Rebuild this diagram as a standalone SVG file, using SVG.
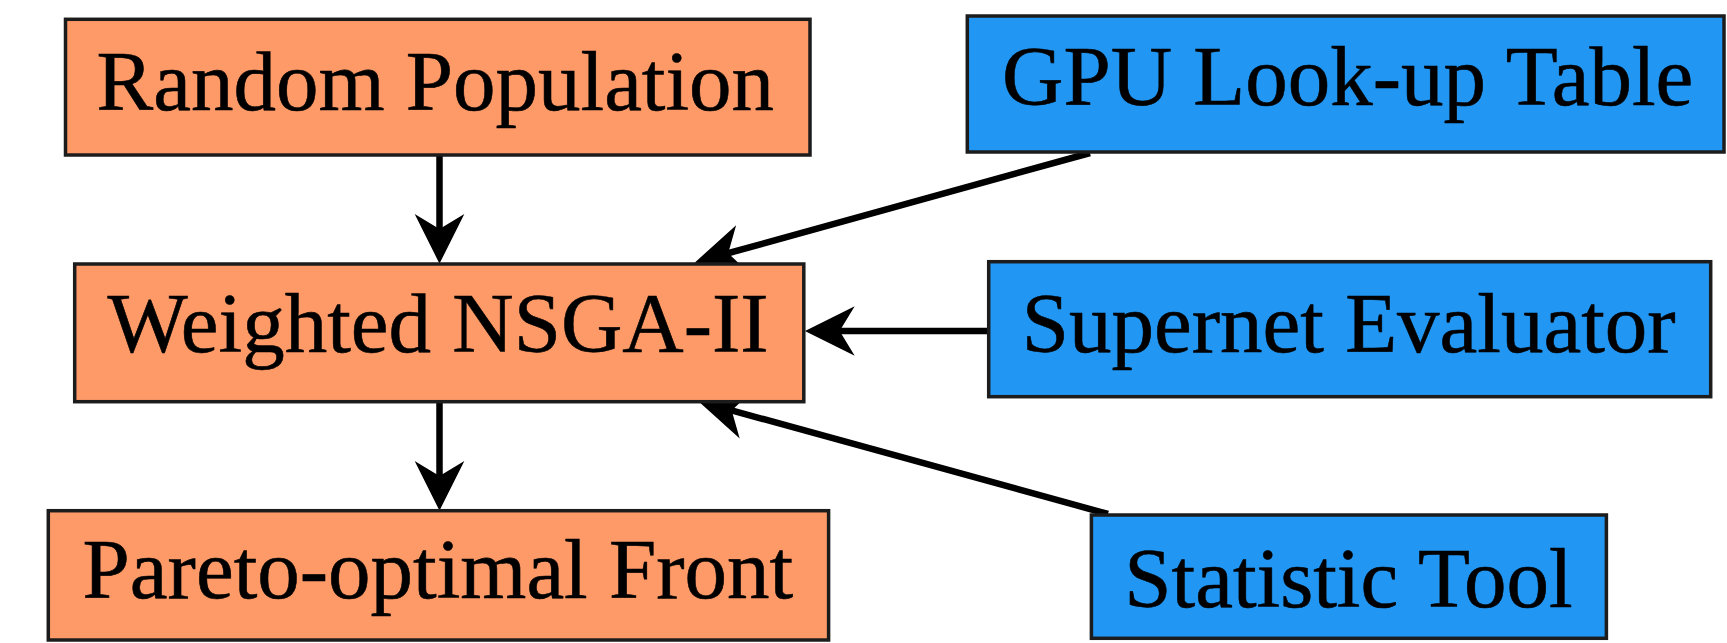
<svg xmlns="http://www.w3.org/2000/svg" width="1727" height="643" viewBox="0 0 1727 643">
  <defs>
    <style>
      .box { stroke: #1c1c1c; stroke-width: 3.5; }
      .search { fill: #FE9A68; }
      .tool { fill: #2196F3; }
      .label { font-family: "Liberation Serif", "Times New Roman", serif; font-size: 85px; fill: #000; stroke: #000; stroke-width: 0.6; text-anchor: middle; }
      .edge { stroke: #000; stroke-width: 6.5; fill: none; }
      .head { fill: #000; stroke: #000; stroke-width: 1.5; stroke-linejoin: miter; }
    </style>
  </defs>

  <rect width="1727" height="643" fill="#fff"/>

  <!-- edges: shaft plus stealth-style head (notched back) -->
  <g id="connectors">
    <path class="edge" d="M439.5,155 L439.5,235"/>
    <path class="head" d="M439.5,262 L462.5,216 L439.5,230 L416.5,216 Z"/>

    <path class="edge" d="M439.5,401 L439.5,482"/>
    <path class="head" d="M439.5,509 L462.5,463 L439.5,477 L416.5,463 Z"/>

    <path class="edge" d="M1090,153 L723.5,254.5"/>
    <path class="head" d="M696.5,262 L746.97,271.89 L727.34,253.46 L734.69,227.55 Z"/>

    <path class="edge" d="M989,331 L834.7,331"/>
    <path class="head" d="M806.7,331 L852.7,354 L838.7,331 L852.7,308 Z"/>

    <path class="edge" d="M1108,514 L727,409.1"/>
    <path class="head" d="M700,401.7 L738.25,436.08 L730.85,410.19 L750.45,391.74 Z"/>
  </g>

  <g id="random-population">
    <rect class="box search" x="65.5" y="19.3" width="744.5" height="135.7"/>
    <text class="label" x="435.3" y="110">Random Population</text>
  </g>

  <g id="weighted-nsga-ii">
    <rect class="box search" x="74.7" y="264" width="729.1" height="137.7"/>
    <text class="label" x="438" y="351.7">Weighted NSGA-II</text>
  </g>

  <g id="pareto-front">
    <rect class="box search" x="48.3" y="510.7" width="780.3" height="129.3"/>
    <text class="label" x="437.9" y="598">Pareto-optimal Front</text>
  </g>

  <g id="gpu-lookup-table">
    <rect class="box tool" x="967.3" y="16" width="756.7" height="136"/>
    <text class="label" x="1347.7" y="105">GPU Look-up Table</text>
  </g>

  <g id="supernet-evaluator">
    <rect class="box tool" x="988.7" y="261.7" width="722" height="135"/>
    <text class="label" x="1348.7" y="351.7">Supernet Evaluator</text>
  </g>

  <g id="statistic-tool">
    <rect class="box tool" x="1091.4" y="515" width="515" height="123.3"/>
    <text class="label" x="1348.4" y="606.7">Statistic Tool</text>
  </g>
</svg>
